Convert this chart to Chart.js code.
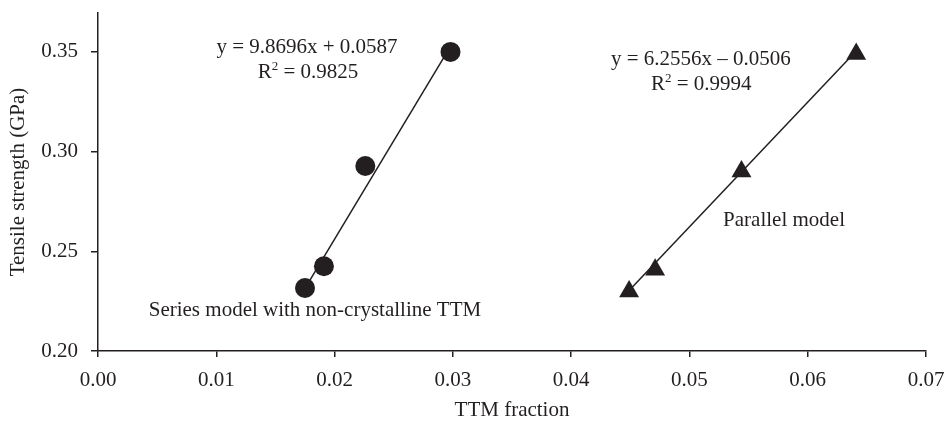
<!DOCTYPE html>
<html>
<head>
<meta charset="utf-8">
<script src="https://cdn.jsdelivr.net/npm/chart.js@4.4.1/dist/chart.umd.min.js"></script>
<style>
  html, body { margin: 0; padding: 0; background: #fff; }
</style>
</head>
<body>
<canvas id="graph" width="946" height="423"></canvas>
<script>
// measured points
const seriesX = [0.0175, 0.0191, 0.0226, 0.0298];
const seriesY = [0.2316, 0.2425, 0.2928, 0.3500];
const parallelX = [0.0449, 0.0471, 0.0544, 0.0641];
const parallelY = [0.2298, 0.2407, 0.2900, 0.3490];

// trend lines, end points
const seriesFitX = [0.0175, 0.0298];
const seriesFitY = [0.2314, 0.3528];
const parallelFitX = [0.0449, 0.0641];
const parallelFitY = [0.2303, 0.3504];

const xTicks = [0, 0.01, 0.02, 0.03, 0.04, 0.05, 0.06, 0.07];
const yTicks = [0.20, 0.25, 0.30, 0.35];

const ink = '#231f20';
const font = '"Liberation Serif", "Times New Roman", serif';

const toPoints = (xs, ys) => xs.map((v, i) => ({ x: v, y: ys[i] }));

// text notes drawn on the plot (x, y in data units, baseline)
const notes = [
  { text: 'y = 9.8696x + 0.0587', x: 0.01767, y: 0.3493 },
  { text: 'R', sup: '2', rest: ' = 0.9825', x: 0.01775, y: 0.3369 },
  { text: 'y = 6.2556x \u2013 0.0506', x: 0.05097, y: 0.3434 },
  { text: 'R', sup: '2', rest: ' = 0.9994', x: 0.0510, y: 0.3309 },
  { text: 'Parallel model', x: 0.0580, y: 0.2627 },
  { text: 'Series model with non-crystalline TTM', x: 0.01834, y: 0.2176 }
];

const notePlugin = {
  id: 'notes',
  afterDatasetsDraw(chart) {
    const { ctx, scales: { x, y } } = chart;
    ctx.save();
    ctx.fillStyle = ink;
    ctx.textBaseline = 'alphabetic';
    ctx.textAlign = 'left';
    notes.forEach(n => {
      const px = x.getPixelForValue(n.x);
      const py = y.getPixelForValue(n.y);
      ctx.font = '21px ' + font;
      if (n.sup) {
        const w1 = ctx.measureText(n.text).width;
        const w3 = ctx.measureText(n.rest).width;
        ctx.font = '13px ' + font;
        const w2 = ctx.measureText(n.sup).width;
        let sx = px - (w1 + w2 + w3) / 2;
        ctx.font = '21px ' + font;
        ctx.fillText(n.text, sx, py);
        ctx.font = '13px ' + font;
        ctx.fillText(n.sup, sx + w1, py - 8);
        ctx.font = '21px ' + font;
        ctx.fillText(n.rest, sx + w1 + w2, py);
      } else {
        const w = ctx.measureText(n.text).width;
        ctx.fillText(n.text, px - w / 2, py);
      }
    });
    ctx.restore();
  }
};

new Chart(document.getElementById('graph').getContext('2d'), {
  type: 'scatter',
  data: {
    datasets: [
      {
        label: 'Series model',
        data: toPoints(seriesX, seriesY),
        pointStyle: 'circle',
        pointRadius: 10,
        backgroundColor: ink,
        borderColor: ink,
        borderWidth: 0
      },
      {
        label: 'Parallel model',
        data: toPoints(parallelX, parallelY),
        pointStyle: 'triangle',
        pointRadius: 11.5,
        backgroundColor: ink,
        borderColor: ink,
        borderWidth: 0
      },
      {
        label: 'Series fit',
        data: toPoints(seriesFitX, seriesFitY),
        showLine: true,
        pointRadius: 0,
        borderColor: ink,
        borderWidth: 1.5
      },
      {
        label: 'Parallel fit',
        data: toPoints(parallelFitX, parallelFitY),
        showLine: true,
        pointRadius: 0,
        borderColor: ink,
        borderWidth: 1.5
      }
    ]
  },
  options: {
    responsive: false,
    animation: false,
    layout: { padding: { left: 0, right: 20, top: 13, bottom: 0 } },
    plugins: {
      legend: { display: false },
      tooltip: { enabled: false }
    },
    scales: {
      x: {
        type: 'linear',
        min: 0,
        max: 0.07,
        afterBuildTicks: axis => { axis.ticks = xTicks.map(v => ({ value: v })); },
        afterFit: axis => {
          axis.height = 72;
          axis.paddingLeft = 0;
          axis.paddingRight = 0;
        },
        grid: { drawOnChartArea: false, drawTicks: true, tickLength: 6, color: ink, lineWidth: 1.5 },
        border: { color: ink, width: 1.5 },
        ticks: {
          color: ink,
          font: { family: font, size: 21 },
          padding: 11,
          maxRotation: 0,
          callback: v => v.toFixed(2)
        },
        title: {
          display: true,
          text: 'TTM fraction',
          color: ink,
          font: { family: font, size: 21 },
          padding: 0
        }
      },
      y: {
        type: 'linear',
        min: 0.2,
        max: 0.3695,
        afterBuildTicks: axis => { axis.ticks = yTicks.map(v => ({ value: v })); },
        afterFit: axis => {
          axis.width = 98;
          axis.paddingTop = 0;
          axis.paddingBottom = 0;
        },
        grid: { drawOnChartArea: false, drawTicks: true, tickLength: 7, color: ink, lineWidth: 1.5 },
        border: { color: ink, width: 1.5 },
        ticks: {
          color: ink,
          font: { family: font, size: 21 },
          padding: 13,
          callback: v => v.toFixed(2)
        },
        title: {
          display: true,
          text: 'Tensile strength (GPa)',
          color: ink,
          font: { family: font, size: 21 },
          padding: { top: 6, bottom: 0 }
        }
      }
    }
  },
  plugins: [notePlugin]
});
</script>
</body>
</html>
